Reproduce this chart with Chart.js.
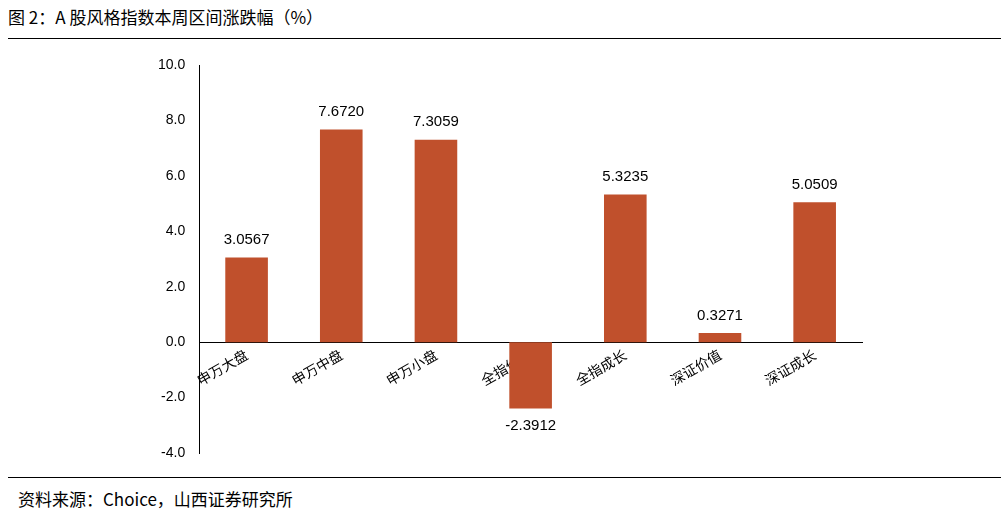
<!DOCTYPE html>
<html>
<head>
<meta charset="utf-8">
<script src="https://cdn.jsdelivr.net/npm/chart.js@4"></script>
<style>
  body { margin: 0; width: 1007px; height: 517px; background: #fff; position: relative; overflow: hidden; }
  .title { position: absolute; left: 8px; top: 4px; font: 17px "Noto Sans CJK SC", serif; color: #000; }
  .rule { position: absolute; left: 8px; right: 6px; height: 1px; background: #000; }
  .source { position: absolute; left: 18px; top: 486px; font: 17px "Noto Sans CJK SC", serif; color: #000; }
  #wrap { position: absolute; left: 0; top: 45px; width: 1007px; height: 430px; }
</style>
</head>
<body>
<div class="title">图 2：A 股风格指数本周区间涨跌幅（%）</div>
<div class="rule" style="top:38px"></div>
<div id="wrap"><canvas id="myChart"></canvas></div>
<div class="rule" style="top:477px"></div>
<div class="source">资料来源：Choice，山西证券研究所</div>
<script>
const categories = ['申万大盘', '申万中盘', '申万小盘', '全指价值', '全指成长', '深证价值', '深证成长'];
const values = [3.0567, 7.6720, 7.3059, -2.3912, 5.3235, 0.3271, 5.0509];
const barColor = '#C0502C';

//VALUE LABELS
const valueLabels = {
  id: 'valueLabels',
  afterDatasetsDraw(chart) {
    const ctx = chart.ctx;
    const meta = chart.getDatasetMeta(0);
    ctx.save();
    ctx.font = '15px "Liberation Sans", Arial';
    ctx.fillStyle = '#000';
    ctx.textAlign = 'center';
    meta.data.forEach((bar, i) => {
      const v = values[i];
      if (v >= 0) {
        ctx.textBaseline = 'bottom';
        ctx.fillText(v.toFixed(4), bar.x, bar.y - 10);
      } else {
        ctx.textBaseline = 'top';
        ctx.fillText(v.toFixed(4), bar.x, bar.y + 10);
      }
    });
    ctx.restore();
  }
};

new Chart(document.getElementById('myChart'), {
  type: 'bar',
  data: {
    labels: categories,
    datasets: [{
      data: values,
      backgroundColor: barColor,
      categoryPercentage: 0.9,
      barPercentage: 0.5
    }]
  },
  options: {
    responsive: true,
    maintainAspectRatio: false,
    animation: false,
    layout: { padding: { left: 150, right: 145, top: 20, bottom: 22 } },
    plugins: { legend: { display: false }, tooltip: { enabled: false } },
    scales: {
      x: {
        position: { y: 0 },
        grid: { display: false, drawTicks: true, tickLength: 0 },
        border: { color: '#000' },
        ticks: {
          color: '#000',
          font: { size: 14, family: '"Noto Sans CJK SC"' },
          minRotation: 30,
          maxRotation: 30,
          padding: 4
        }
      },
      y: {
        min: -4,
        max: 10,
        grid: { display: false, drawOnChartArea: false, drawTicks: true, tickLength: 6, color: '#000' },
        border: { color: '#000' },
        ticks: {
          stepSize: 2,
          color: '#000',
          font: { size: 14, family: '"Liberation Sans", Arial' },
          callback: v => v.toFixed(1),
          padding: 8
        }
      }
    }
  },
  plugins: [valueLabels]
});
</script>
</body>
</html>
